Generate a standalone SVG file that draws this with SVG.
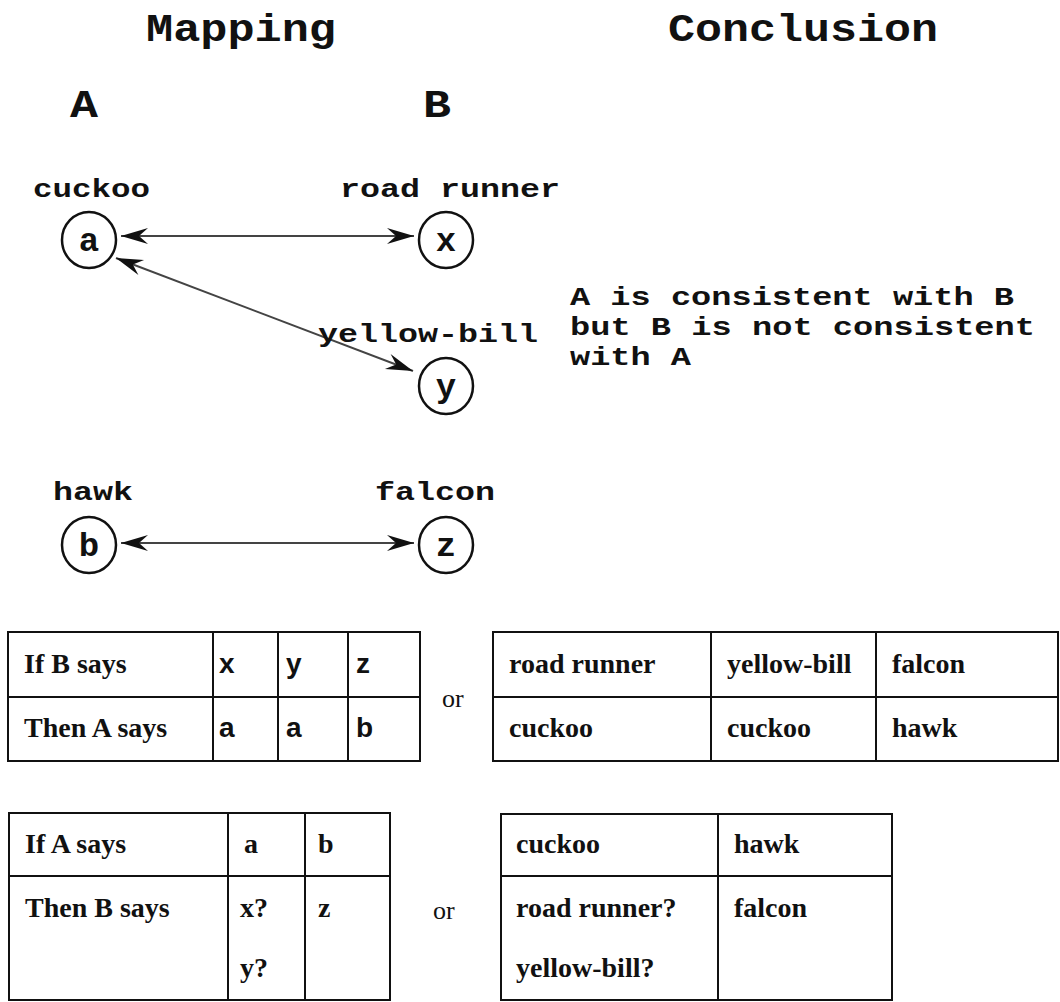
<svg xmlns="http://www.w3.org/2000/svg" width="1060" height="1002" viewBox="0 0 1060 1002">
<style>
.mono{font-family:"Liberation Mono","Courier New",monospace;font-weight:bold;fill:#111}
.title{font-size:38px}
.lbl{font-size:26px}
.node-letter{font-size:34px;text-anchor:middle}
.serif{font-family:"Liberation Serif","Times New Roman",serif;font-weight:bold;font-size:28px;fill:#111}
.sans{font-family:"Liberation Sans",Arial,sans-serif;font-weight:bold;font-size:28px;fill:#111}
.or{font-family:"Liberation Serif","Times New Roman",serif;font-size:26px;fill:#111}
.circ{fill:#fff;stroke:#111;stroke-width:2.5}
.edge{stroke:#444;stroke-width:2;fill:none;marker-end:url(#ah);marker-start:url(#ahs)}
.tbl{fill:none;stroke:#111;stroke-width:2}
.tl{stroke:#111;stroke-width:2}
</style>
<defs>
<marker id="ah" markerUnits="userSpaceOnUse" markerWidth="32" markerHeight="22" viewBox="-28 -11 30 22" refX="0" refY="0" orient="auto">
<path d="M0,0 L-27,-8 L-18,0 L-27,8 Z" fill="#111"/>
</marker>
<marker id="ahs" markerUnits="userSpaceOnUse" markerWidth="32" markerHeight="22" viewBox="-2 -11 30 22" refX="0" refY="0" orient="auto">
<path d="M0,0 L27,-8 L18,0 L27,8 Z" fill="#111"/>
</marker>
</defs>
<rect width="1060" height="1002" fill="#fff"/>
<g id="titles">
<text class="mono title" x="146" y="41" textLength="190" lengthAdjust="spacingAndGlyphs">Mapping</text>
<text class="mono title" x="668" y="41" textLength="270" lengthAdjust="spacingAndGlyphs">Conclusion</text>
<text class="mono title" x="70" y="117" textLength="28" lengthAdjust="spacingAndGlyphs">A</text>
<text class="mono title" x="423" y="117" textLength="28" lengthAdjust="spacingAndGlyphs">B</text>
</g>
<g id="connectors">
<line class="edge" x1="121" y1="236" x2="414" y2="236"/>
<line class="edge" x1="116" y1="258" x2="413" y2="371"/>
<line class="edge" x1="121" y1="543" x2="414" y2="543"/>
</g>
<g id="node-a">
<text class="mono lbl" x="33" y="197" textLength="117" lengthAdjust="spacingAndGlyphs">cuckoo</text>
<ellipse class="circ" cx="89" cy="240" rx="27" ry="28"/>
<text class="mono node-letter" x="89" y="251">a</text>
</g>
<g id="node-x">
<text class="mono lbl" x="340" y="197" textLength="220" lengthAdjust="spacingAndGlyphs">road runner</text>
<ellipse class="circ" cx="446" cy="240" rx="27" ry="28"/>
<text class="mono node-letter" x="446" y="251">x</text>
</g>
<g id="node-y">
<text class="mono lbl" x="318" y="342" textLength="220" lengthAdjust="spacingAndGlyphs">yellow-bill</text>
<ellipse class="circ" cx="446" cy="386" rx="27" ry="28"/>
<text class="mono node-letter" x="446" y="397">y</text>
</g>
<g id="node-b">
<text class="mono lbl" x="53" y="500" textLength="80" lengthAdjust="spacingAndGlyphs">hawk</text>
<ellipse class="circ" cx="89" cy="545" rx="27" ry="28"/>
<text class="mono node-letter" x="89" y="556">b</text>
</g>
<g id="node-z">
<text class="mono lbl" x="375" y="500" textLength="120" lengthAdjust="spacingAndGlyphs">falcon</text>
<ellipse class="circ" cx="446" cy="545" rx="27" ry="28"/>
<text class="mono node-letter" x="446" y="556">z</text>
</g>
<g id="conclusion">
<text class="mono lbl" x="570" y="305" textLength="444" lengthAdjust="spacingAndGlyphs">A is consistent with B</text>
<text class="mono lbl" x="570" y="335" textLength="465" lengthAdjust="spacingAndGlyphs">but B is not consistent</text>
<text class="mono lbl" x="570" y="365" textLength="121" lengthAdjust="spacingAndGlyphs">with A</text>
</g>
<g id="table1">
<rect class="tbl" x="8" y="632" width="412" height="129"/>
<line class="tl" x1="8" y1="697" x2="420" y2="697"/>
<line class="tl" x1="213" y1="632" x2="213" y2="761" stroke="#666"/>
<line class="tl" x1="278" y1="632" x2="278" y2="761"/>
<line class="tl" x1="348" y1="632" x2="348" y2="761"/>
<text class="serif" x="24" y="673">If B says</text>
<text class="serif" x="24" y="737">Then A says</text>
<text class="sans" x="219" y="673">x</text>
<text class="sans" x="286" y="673">y</text>
<text class="sans" x="356" y="673">z</text>
<text class="sans" x="219" y="737">a</text>
<text class="sans" x="286" y="737">a</text>
<text class="sans" x="356" y="737">b</text>
</g>
<text class="or" x="442" y="707">or</text>
<g id="table2">
<rect class="tbl" x="493" y="632" width="565" height="129"/>
<line class="tl" x1="493" y1="697" x2="1058" y2="697"/>
<line class="tl" x1="711" y1="632" x2="711" y2="761"/>
<line class="tl" x1="876" y1="632" x2="876" y2="761"/>
<text class="serif" x="509" y="673">road runner</text>
<text class="serif" x="727" y="673">yellow-bill</text>
<text class="serif" x="892" y="673">falcon</text>
<text class="serif" x="509" y="737">cuckoo</text>
<text class="serif" x="727" y="737">cuckoo</text>
<text class="serif" x="892" y="737">hawk</text>
</g>
<g id="table3">
<rect class="tbl" x="9" y="813" width="381" height="187"/>
<line class="tl" x1="9" y1="876" x2="390" y2="876"/>
<line class="tl" x1="228" y1="813" x2="228" y2="1000"/>
<line class="tl" x1="305" y1="813" x2="305" y2="1000"/>
<text class="serif" x="25" y="853">If A says</text>
<text class="serif" x="25" y="917">Then B says</text>
<text class="serif" x="244" y="853">a</text>
<text class="serif" x="318" y="853">b</text>
<text class="serif" x="240" y="917">x?</text>
<text class="serif" x="318" y="917">z</text>
<text class="serif" x="240" y="977">y?</text>
</g>
<text class="or" x="433" y="919">or</text>
<g id="table4">
<rect class="tbl" x="501" y="814" width="391" height="186"/>
<line class="tl" x1="501" y1="876" x2="892" y2="876"/>
<line class="tl" x1="718" y1="814" x2="718" y2="1000"/>
<text class="serif" x="516" y="853">cuckoo</text>
<text class="serif" x="734" y="853">hawk</text>
<text class="serif" x="516" y="917">road runner?</text>
<text class="serif" x="734" y="917">falcon</text>
<text class="serif" x="516" y="977">yellow-bill?</text>
</g>
</svg>
